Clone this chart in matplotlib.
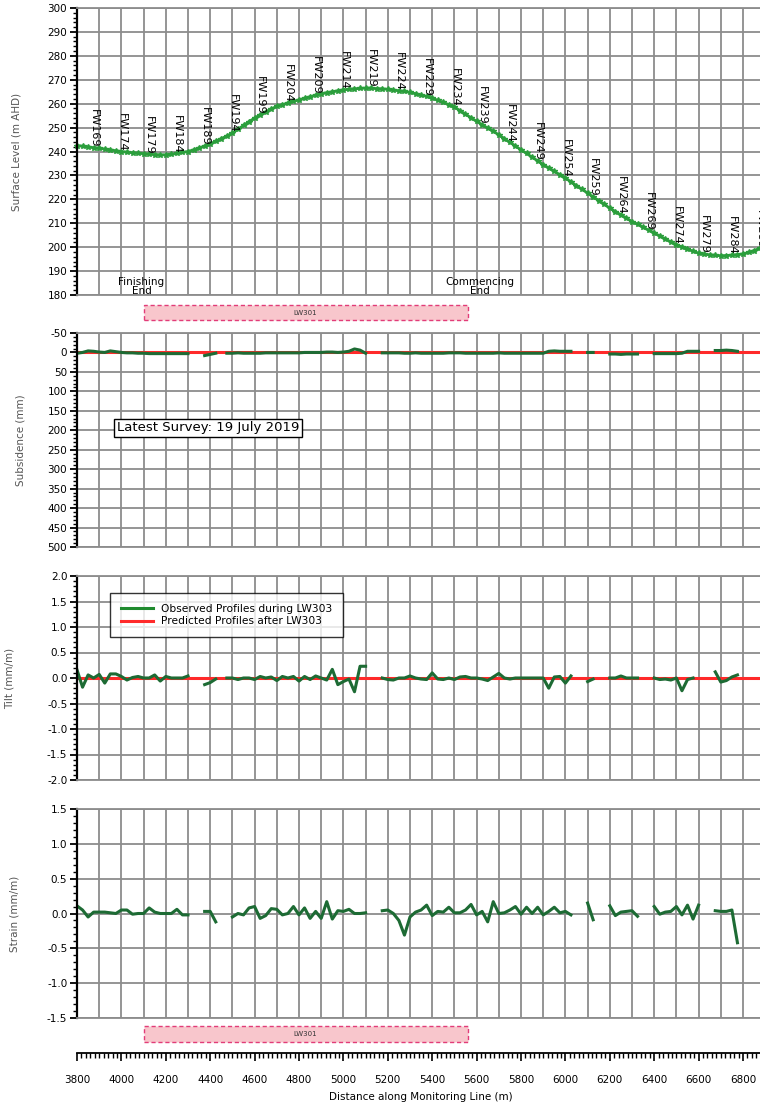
import numpy as np
import matplotlib
matplotlib.use("Agg")
import matplotlib.pyplot as plt
from matplotlib.ticker import MultipleLocator, FormatStrFormatter
from matplotlib.patches import Rectangle
from matplotlib.lines import Line2D
import matplotlib.transforms as mtransforms

plt.rcParams['font.family'] = ['DejaVu Sans']
plt.rcParams['axes.unicode_minus'] = False

nan = np.nan

# surface level along the line, pegs every 25 m from 3800 m
surf_start = 3800
surf_step = 25
surface = [
    242.5, 242.2, 241.9, 241.6, 241.4, 241.0, 240.7, 240.3,
    240.0, 239.7, 239.5, 239.3, 239.1, 238.9, 238.7, 238.6,
    238.6, 238.8, 239.2, 239.6, 240.0, 240.7, 241.5, 242.3,
    243.2, 244.3, 245.4, 246.5, 247.7, 249.3, 250.9, 252.5,
    254.0, 255.3, 256.6, 257.8, 258.9, 259.6, 260.3, 261.0,
    261.6, 262.3, 262.9, 263.6, 264.2, 264.6, 265.0, 265.4,
    265.8, 266.0, 266.2, 266.4, 266.5, 266.5, 266.3, 266.2,
    266.0, 265.7, 265.4, 265.1, 264.7, 264.2, 263.6, 263.0,
    262.3, 261.4, 260.5, 259.6, 258.6, 257.1, 255.6, 254.1,
    252.6, 251.2, 249.8, 248.4, 247.0, 245.4, 243.8, 242.3,
    240.7, 239.2, 237.6, 236.1, 234.5, 233.1, 231.7, 230.3,
    228.9, 227.3, 225.7, 224.2, 222.6, 221.0, 219.5, 217.9,
    216.3, 214.9, 213.5, 212.1, 210.7, 209.5, 208.3, 207.1,
    205.9, 204.7, 203.4, 202.2, 201.0, 200.1, 199.2, 198.3,
    197.5, 197.1, 196.8, 196.6, 196.4, 196.5, 196.7, 196.9,
    197.2, 197.8, 198.6, 199.5,
]

# peg labels
peg_names = ["FW169", "FW174", "FW179", "FW184", "FW189", "FW194", "FW199",
             "FW204", "FW209", "FW214", "FW219", "FW224", "FW229", "FW234",
             "FW239", "FW244", "FW249", "FW254", "FW259", "FW264", "FW269",
             "FW274", "FW279", "FW284", "FW289"]
peg_chain = [3875, 4000, 4125, 4250, 4375, 4500, 4625, 4750, 4875, 5000,
             5125, 5250, 5375, 5500, 5625, 5750, 5875, 6000, 6125, 6250,
             6375, 6500, 6625, 6750, 6875]

# observed profiles, 25 m bays from 3800 m (nan = no reading)
subsidence = [
    2, 0, -4, -3,  -1, 0, -4, -2,  0, 1, 1, 2,  2, 3, 3, 3,
    3, 3, 3, 3,  3, nan, nan, 8,  5, 2, nan, 2,  2, 1, 2, 2,
    2, 2, 1, 1,  1, 1, 1, 1,  1, 0, 0, 0,  0, -1, -1, 0,
    -1, -3, -9, -6,  2, nan, nan, 1,  1, 1, 1, 2,  2, 1, 2, 2,
    2, 2, 2, 1,  1, 1, 2, 2,  2, 2, 2, 2,  1, 2, 2, 2,
    2, 2, 2, 2,  2, -3, -4, -3,  -3, -3, nan, nan,  0, 0, nan, nan,
    4, 4, 5, 4,  4, 4, nan, nan,  3, 3, 3, 3,  3, 2, -3, -3,
    -3, nan, nan, -5,  -5, -6, -5, -3,  nan,
]
tilt = [
    0.16, -0.18, 0.06, 0.00,  0.07, -0.10, 0.08, 0.08,
    0.03, -0.04, 0.01, 0.03,  0.00, 0.00, 0.06, -0.06,
    0.03, 0.00, 0.00, 0.00,  0.04, nan, nan, -0.13,
    -0.09, -0.02, nan, 0.00,  0.00, -0.03, 0.00, 0.00,
    -0.03, 0.03, 0.00, 0.02,  -0.05, 0.03, 0.00, 0.03,
    -0.06, 0.03, -0.03, 0.04,  0.00, -0.04, 0.17, -0.13,
    -0.07, -0.02, -0.27, 0.23,  0.23, nan, nan, 0.00,
    -0.03, -0.04, 0.00, 0.00,  0.04, 0.00, -0.02, -0.03,
    0.10, -0.02, -0.03, 0.00,  -0.03, 0.02, 0.03, 0.00,
    0.00, -0.02, -0.05, 0.02,  0.09, 0.00, -0.02, 0.00,
    0.00, 0.00, 0.00, 0.00,  0.00, -0.20, 0.02, 0.03,
    -0.10, 0.04, nan, nan,  -0.07, -0.02, nan, nan,
    0.00, 0.00, 0.04, 0.00,  0.00, 0.00, nan, nan,
    0.00, -0.03, -0.02, -0.04,  0.00, -0.25, -0.03, 0.00,
    nan, nan, nan, 0.12,  -0.08, -0.05, 0.02, 0.06,  nan,
]
strain = [
    0.11, 0.05, -0.05, 0.02,  0.02, 0.02, 0.01, 0.00,
    0.05, 0.05, -0.01, 0.00,  0.00, 0.08, 0.02, 0.00,
    0.00, 0.00, 0.06, -0.02,  -0.02, nan, nan, 0.03,
    0.03, -0.12, nan, nan,  -0.05, 0.00, -0.02, 0.08,
    0.10, -0.07, -0.03, 0.07,  0.06, -0.02, 0.00, 0.10,
    -0.02, 0.08, -0.07, 0.03,  -0.07, 0.17, -0.08, 0.04,
    0.03, 0.06, 0.00, 0.00,  0.01, nan, nan, 0.04,
    0.05, 0.00, -0.10, -0.31,  -0.05, 0.02, 0.05, 0.12,
    -0.03, 0.03, 0.02, 0.09,  0.01, 0.01, 0.05, 0.13,
    -0.02, 0.03, -0.12, 0.17,  0.00, 0.01, 0.05, 0.10,
    -0.01, 0.09, 0.00, 0.09,  -0.02, 0.03, 0.09, 0.01,
    0.03, -0.02, nan, nan,  0.15, -0.09, nan, nan,
    0.11, -0.03, 0.02, 0.03,  0.04, -0.04, nan, nan,
    0.10, -0.01, 0.02, 0.03,  0.10, -0.02, 0.12, -0.08,
    0.12, nan, nan, 0.04,  0.03, 0.03, 0.05, -0.42,  nan,
]
obs_start = 3800
obs_step = 25

# predicted profiles after LW303 (flat)
pred_chain = [3800, 6900]
pred_subsidence = [0, 0]
pred_tilt = [0, 0]

# longwall LW301 extent
lw_name = "LW301"
lw_start = 4100
lw_end = 5560

surf_x = surf_start + surf_step * np.arange(len(surface))
obs_x = obs_start + obs_step * np.arange(len(tilt))

green_obs = "#1d6b34"
green_surf = "#2b9e3c"
red_pred = "#ff2a2a"
grid_c = "#8c8c8c"
label_c = "#555555"

fig = plt.figure(figsize=(7.6, 11.06), dpi=100)
W, H = 760.0, 1106.0
left = 77 / W
width = (6900 - 3800) * 0.222 / W


def panel(top, bottom):
    return fig.add_axes([left, 1 - bottom / H, width, (bottom - top) / H])


def style(ax, major, minor):
    ax.set_xlim(3800, 6900)
    ax.xaxis.set_major_locator(MultipleLocator(100))
    ax.yaxis.set_major_locator(MultipleLocator(major))
    ax.yaxis.set_minor_locator(MultipleLocator(minor))
    ax.grid(True, which='major', color=grid_c, lw=1.3)
    ax.set_axisbelow(True)
    ax.tick_params(axis='x', length=0, labelbottom=False)
    ax.tick_params(axis='y', which='major', direction='out', length=5, width=1.3, labelsize=7.5, pad=2)
    ax.tick_params(axis='y', which='minor', direction='out', length=3, width=1)
    for s in ['top', 'right', 'bottom']:
        ax.spines[s].set_color(grid_c)
        ax.spines[s].set_linewidth(1.3)
    ax.spines['left'].set_linewidth(1.6)


def lw_box(ax, y0, h):
    tr = mtransforms.blended_transform_factory(ax.transData, ax.transAxes)
    r = Rectangle((lw_start, y0), lw_end - lw_start, h, transform=tr, clip_on=False,
                  facecolor="#f8c6cc", edgecolor="#e23c78", lw=1, ls=(0, (3, 2)))
    ax.add_patch(r)
    ax.text((lw_start + lw_end) / 2, y0 + h / 2, lw_name, transform=tr, ha='center',
            va='center', fontsize=5, color="#333333")


# ---- surface level
ax1 = panel(8, 295)
style(ax1, 10, 2)
ax1.set_ylim(180, 300)
ax1.plot(surf_x, surface, color=green_surf, lw=2, marker='*', ms=4, mec=green_surf, clip_on=False)
for name, c in zip(peg_names, peg_chain):
    lvl = surface[int((c - surf_start) / surf_step)]
    ax1.text(c, lvl, name, rotation=270, ha='center', va='bottom', fontsize=8, clip_on=False)
ax1.text(4090, 183.5, "Finishing\nEnd", ha='center', va='center', fontsize=7.5, linespacing=0.95)
ax1.text(5615, 183.5, "Commencing\nEnd", ha='center', va='center', fontsize=7.5, linespacing=0.95)
ax1.set_ylabel("Surface Level (m AHD)", fontsize=7.5, color=label_c)
ax1.yaxis.set_label_coords(-0.08, 0.5)
lw_box(ax1, -0.087, 0.052)

# ---- subsidence
ax2 = panel(333, 547)
style(ax2, 50, 10)
ax2.set_ylim(500, -50)
ax2.plot(pred_chain, pred_subsidence, color=red_pred, lw=2.2)
ax2.plot(obs_x, subsidence, color=green_obs, lw=2.2)
ax2.text(4390, 194, "Latest Survey: 19 July 2019", ha='center', va='center', fontsize=9.5,
         bbox=dict(boxstyle='square,pad=0.2', facecolor='white', edgecolor='black', lw=1))
ax2.set_ylabel("Subsidence (mm)", fontsize=7.5, color=label_c)
ax2.yaxis.set_label_coords(-0.075, 0.5)

# ---- tilt
ax3 = panel(576, 780)
style(ax3, 0.5, 0.1)
ax3.set_ylim(-2, 2)
ax3.yaxis.set_major_formatter(FormatStrFormatter('%.1f'))
ax3.plot(pred_chain, pred_tilt, color=red_pred, lw=2.2)
ax3.plot(obs_x, tilt, color=green_obs, lw=2.2)
handles = [Line2D([], [], color="#1f8a2e", lw=2.2), Line2D([], [], color=red_pred, lw=2.2)]
leg = ax3.legend(handles, ["Observed Profiles during LW303", "Predicted Profiles after LW303"],
                 loc='upper left', bbox_to_anchor=(0.048, 0.917), borderaxespad=0, fontsize=7.7,
                 frameon=True, fancybox=False, borderpad=1.0, handlelength=3.0,
                 handletextpad=0.8, labelspacing=0.25)
leg.get_frame().set_edgecolor('black')
leg.get_frame().set_linewidth(1)
ax3.set_ylabel("Tilt (mm/m)", fontsize=7.5, color=label_c)
ax3.yaxis.set_label_coords(-0.09, 0.5)

# ---- strain
ax4 = panel(809, 1018)
style(ax4, 0.5, 0.1)
ax4.set_ylim(-1.5, 1.5)
ax4.yaxis.set_major_formatter(FormatStrFormatter('%.1f'))
ax4.plot(obs_x, strain, color=green_obs, lw=2.2)
ax4.set_ylabel("Strain (mm/m)", fontsize=7.5, color=label_c)
ax4.yaxis.set_label_coords(-0.083, 0.5)
lw_box(ax4, -0.115, 0.077)

# ---- distance axis
axb = fig.add_axes([left, 1 - 1053 / H, width, 0.0001])
axb.set_xlim(3800, 6900)
axb.set_yticks([])
for s in ['top', 'left', 'right']:
    axb.spines[s].set_visible(False)
axb.spines['bottom'].set_linewidth(1.3)
axb.xaxis.set_major_locator(MultipleLocator(200))
axb.xaxis.set_minor_locator(MultipleLocator(20))
axb.tick_params(axis='x', which='major', direction='out', length=6, width=1.2, labelsize=7.5, pad=10)
axb.tick_params(axis='x', which='minor', direction='out', length=3.5, width=1)
axb.set_xlabel("Distance along Monitoring Line (m)", fontsize=7.5, labelpad=5)

fig.savefig("out.png", dpi=100)
